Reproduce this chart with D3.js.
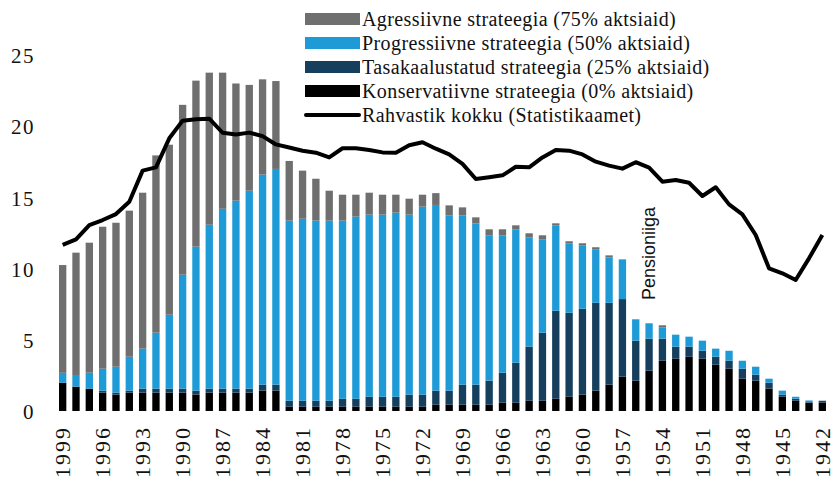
<!DOCTYPE html>
<html>
<head>
<meta charset="utf-8">
<script src="https://cdn.jsdelivr.net/npm/d3@7"></script>
<style>
  body { margin: 0; background: #fff; }
  text { font-family: "Liberation Serif", "DejaVu Serif", serif; fill: #111; }
</style>
</head>
<body>
<svg width="834" height="477"></svg>
<script>
// years go from newest to oldest, left to right
var years = d3.range(1999, 1941, -1);

// segment heights for each strategy (bottom to top)
var konservatiivne = [1.99, 1.71, 1.57, 1.29, 1.15, 1.29, 1.29, 1.29, 1.29, 1.29, 1.15, 1.29, 1.29, 1.29, 1.29, 1.43, 1.43,
  0.30, 0.30, 0.30, 0.30, 0.30, 0.30, 0.30, 0.30, 0.30, 0.30, 0.30, 0.44, 0.44, 0.44, 0.44, 0.44, 0.58, 0.58, 0.72, 0.72,
  0.86, 1.00, 1.15, 1.43, 1.85, 2.41, 2.13, 2.83, 3.53, 3.67, 3.81, 3.67, 3.25, 2.97, 2.27, 2.13, 1.57, 1.00, 0.72, 0.58, 0.58];
var tasakaalustatud = [0, 0, 0, 0.14, 0.14, 0.14, 0.28, 0.28, 0.28, 0.28, 0.28, 0.28, 0.28, 0.28, 0.28, 0.42, 0.42,
  0.42, 0.42, 0.42, 0.42, 0.56, 0.56, 0.70, 0.70, 0.70, 0.85, 0.85, 0.99, 0.99, 1.41, 1.41, 1.69, 2.11, 2.81, 3.80, 4.78,
  6.18, 5.90, 6.03, 6.17, 5.75, 5.45, 2.81, 2.25, 1.55, 0.85, 0.71, 0.56, 0.56, 0.56, 0.70, 0.42, 0.42, 0.15, 0.14, 0.04, 0.14];
var progressiivne = [0.69, 0.82, 1.12, 1.54, 1.82, 2.38, 2.81, 3.93, 5.19, 8.00, 10.11, 11.51, 12.63, 13.20, 13.90, 14.75, 15.15,
  12.65, 12.78, 12.65, 12.65, 12.51, 12.79, 12.79, 12.79, 12.93, 12.64, 13.20, 13.04, 12.31, 11.89, 11.33, 10.21, 9.65, 9.37, 7.68, 6.56,
  6.00, 4.88, 4.46, 3.76, 3.19, 2.79, 1.50, 1.08, 0.80, 0.84, 0.70, 0.71, 0.57, 0.70, 0.56, 0.56, 0.28, 0.28, 0.14, 0.12, 0];
var agressiivne = [7.57, 8.59, 9.13, 9.97, 10.11, 10.26, 10.95, 12.45, 11.94, 11.93, 11.66, 10.68, 9.56, 8.23, 7.43, 6.69, 6.17,
  4.19, 3.38, 2.94, 2.10, 1.82, 1.54, 1.54, 1.40, 1.26, 1.12, 0.84, 0.83, 0.70, 0.56, 0.42, 0.42, 0.42, 0.28, 0.28, 0.28,
  0.14, 0.14, 0.14, 0.14, 0.14, 0, 0, 0, 0.14, 0, 0, 0, 0, 0, 0, 0, 0, 0, 0, 0, 0];

// population line
var rahvastik = [11.66, 12.05, 13.06, 13.41, 13.83, 14.70, 16.88, 17.11, 19.15, 20.39, 20.48, 20.53, 19.54, 19.42, 19.55, 19.30, 18.72,
  18.50, 18.28, 18.14, 17.81, 18.45, 18.45, 18.33, 18.16, 18.14, 18.66, 18.87, 18.42, 18.02, 17.35, 16.29, 16.41, 16.55, 17.15, 17.11, 17.81,
  18.33, 18.28, 18.02, 17.51, 17.23, 17.02, 17.47, 17.09, 16.10, 16.22, 16.03, 15.10, 15.71, 14.51, 13.81, 12.36, 10.02, 9.67, 9.20, 10.72, 12.36];

var yTicks = [0, 5, 10, 15, 20, 25];
var xTickYears = d3.range(1999, 1941, -3);

var seriesKeys = ["konservatiivne", "tasakaalustatud", "progressiivne", "agressiivne"];
var seriesColors = {
  konservatiivne: "#000000",
  tasakaalustatud: "#163f5e",
  progressiivne: "#1e9bd7",
  agressiivne: "#6f6f6f"
};

var legendItems = [
  { label: "Agressiivne strateegia (75% aktsiaid)", key: "agressiivne" },
  { label: "Progressiivne strateegia (50% aktsiaid)", key: "progressiivne" },
  { label: "Tasakaalustatud strateegia (25% aktsiaid)", key: "tasakaalustatud" },
  { label: "Konservatiivne strateegia (0% aktsiaid)", key: "konservatiivne" },
  { label: "Rahvastik kokku (Statistikaamet)", key: "line" }
];

var svg = d3.select("svg");

// table for the stack layout
var table = years.map(function (y, i) {
  return {
    year: y,
    konservatiivne: konservatiivne[i],
    tasakaalustatud: tasakaalustatud[i],
    progressiivne: progressiivne[i],
    agressiivne: agressiivne[i],
    rahvastik: rahvastik[i]
  };
});

var x = d3.scaleBand()
  .domain(years)
  .range([56, 829])
  .paddingInner(0.45)
  .paddingOuter(0.225);

var y = d3.scaleLinear()
  .domain([0, 25])
  .range([411, 55]);

var stacked = d3.stack().keys(seriesKeys)(table);

// bars
svg.append("g")
  .selectAll("g")
  .data(stacked)
  .enter().append("g")
  .attr("fill", function (d) { return seriesColors[d.key]; })
  .selectAll("rect")
  .data(function (d) { return d; })
  .enter().append("rect")
  .attr("x", function (d) { return x(d.data.year); })
  .attr("y", function (d) { return y(d[1]); })
  .attr("width", x.bandwidth())
  .attr("height", function (d) { return Math.max(0, y(d[0]) - y(d[1])); });

// population line
var line = d3.line()
  .x(function (d) { return x(d.year) + x.bandwidth() / 2; })
  .y(function (d) { return y(d.rahvastik); });

svg.append("path")
  .datum(table)
  .attr("d", line)
  .attr("fill", "none")
  .attr("stroke", "#000")
  .attr("stroke-width", 4)
  .attr("stroke-linejoin", "round");

// y axis labels, no axis line
var yAxis = d3.axisLeft(y).tickValues(yTicks).tickSize(0).tickPadding(0);
var yg = svg.append("g").attr("transform", "translate(35,1)").call(yAxis);
yg.select(".domain").remove();
yg.selectAll("text")
  .style("font-family", "'Liberation Serif', serif")
  .style("font-size", "21px")
  .style("letter-spacing", "1.5px")
  .attr("fill", "#111");

// x axis labels, rotated
var xAxis = d3.axisBottom(x).tickValues(xTickYears).tickSize(0).tickPadding(0);
var xg = svg.append("g").attr("transform", "translate(0,422)").call(xAxis);
xg.select(".domain").remove();
xg.selectAll("text")
  .style("font-family", "'Liberation Serif', serif")
  .style("font-size", "22px")
  .style("letter-spacing", "2px")
  .attr("fill", "#111")
  .attr("transform", "rotate(-90)")
  .attr("text-anchor", "end")
  .attr("x", -4)
  .attr("y", 0)
  .attr("dy", "0.35em");

// pension age note
svg.append("text")
  .attr("transform", "translate(655,300) rotate(-90)")
  .style("font-family", "'Liberation Sans', Arial, sans-serif")
  .style("font-size", "18px")
  .text("Pensioniiga");

// legend
var legend = svg.append("g").attr("transform", "translate(305,19)");
var item = legend.selectAll("g")
  .data(legendItems)
  .enter().append("g")
  .attr("transform", function (d, i) { return "translate(0," + (i * 24) + ")"; });

item.filter(function (d) { return d.key !== "line"; })
  .append("rect")
  .attr("x", 0)
  .attr("y", -6)
  .attr("width", 55)
  .attr("height", 12)
  .attr("fill", function (d) { return seriesColors[d.key]; });

item.filter(function (d) { return d.key === "line"; })
  .append("line")
  .attr("x1", 1)
  .attr("x2", 54)
  .attr("stroke", "#000")
  .attr("stroke-width", 4)
  .attr("stroke-linecap", "round");

item.append("text")
  .attr("x", 57)
  .attr("dy", "0.35em")
  .style("font-size", "20px")
  .style("letter-spacing", "0.4px")
  .text(function (d) { return d.label; });
</script>
</body>
</html>
